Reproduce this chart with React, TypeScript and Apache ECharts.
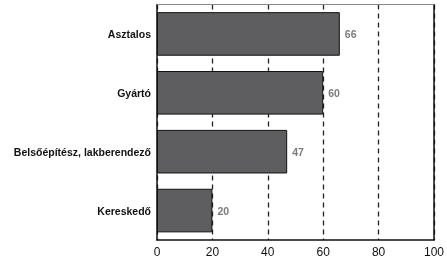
import React, { useEffect, useRef } from "react";
import * as echarts from "echarts";

const categories = ["Asztalos", "Gyártó", "Belsőépítész, lakberendező", "Kereskedő"];
const values = [66, 60, 47, 20];
const xTicks = [0, 20, 40, 60, 80, 100];

export default function App() {
  const ref = useRef<HTMLDivElement>(null);
  useEffect(() => {
    if (!ref.current) return;
    const chart = echarts.init(ref.current, undefined, { renderer: "svg" });
    const font = "'Liberation Sans', Arial, Helvetica, sans-serif";
    chart.setOption({
      animation: false,
      grid: { left: 157, right: 10.5, top: 4.5, bottom: 19, containLabel: false },
      xAxis: [
        {
          type: "value",
          min: xTicks[0],
          max: xTicks[xTicks.length - 1],
          interval: 20,
          axisLine: { show: true, lineStyle: { color: "#111", width: 1.5 } },
          axisTick: { show: false },
          axisLabel: { color: "#111", fontSize: 12, fontFamily: font, margin: 6 },
          splitLine: { show: true, lineStyle: { color: "#222", width: 1.3, type: [5, 4] } },
        },
        {
          type: "value",
          position: "top",
          min: xTicks[0],
          max: xTicks[xTicks.length - 1],
          interval: 20,
          axisLine: { show: true, onZero: false, lineStyle: { color: "#888", width: 1 } },
          axisTick: { show: false },
          axisLabel: { show: false },
          splitLine: { show: false },
        },
      ],
      yAxis: [
        {
          type: "category",
          inverse: true,
          data: categories,
          axisLine: { show: true, lineStyle: { color: "#111", width: 1.5 } },
          axisTick: { show: false },
          axisLabel: { color: "#111", fontSize: 10.5, fontWeight: "bold", fontFamily: font, margin: 6 },
        },
        {
          type: "category",
          position: "right",
          inverse: true,
          data: categories,
          axisLine: { show: true, onZero: false, lineStyle: { color: "#111", width: 1.5 } },
          axisTick: { show: false },
          axisLabel: { show: false },
          splitLine: { show: false },
        },
      ],
      series: [
        {
          type: "bar",
          data: values,
          barCategoryGap: "26%",
          itemStyle: { color: "#5e5e60", borderColor: "#111", borderWidth: 1 },
          label: {
            show: true,
            position: "right",
            distance: 5,
            color: "#7a7a7a",
            fontSize: 10.5,
            fontWeight: "bold",
            fontFamily: font,
          },
        },
      ],
    });
    return () => chart.dispose();
  }, []);
  return <div ref={ref} style={{ position: "fixed", left: 0, top: 0, width: 447, height: 259 }} />;
}
